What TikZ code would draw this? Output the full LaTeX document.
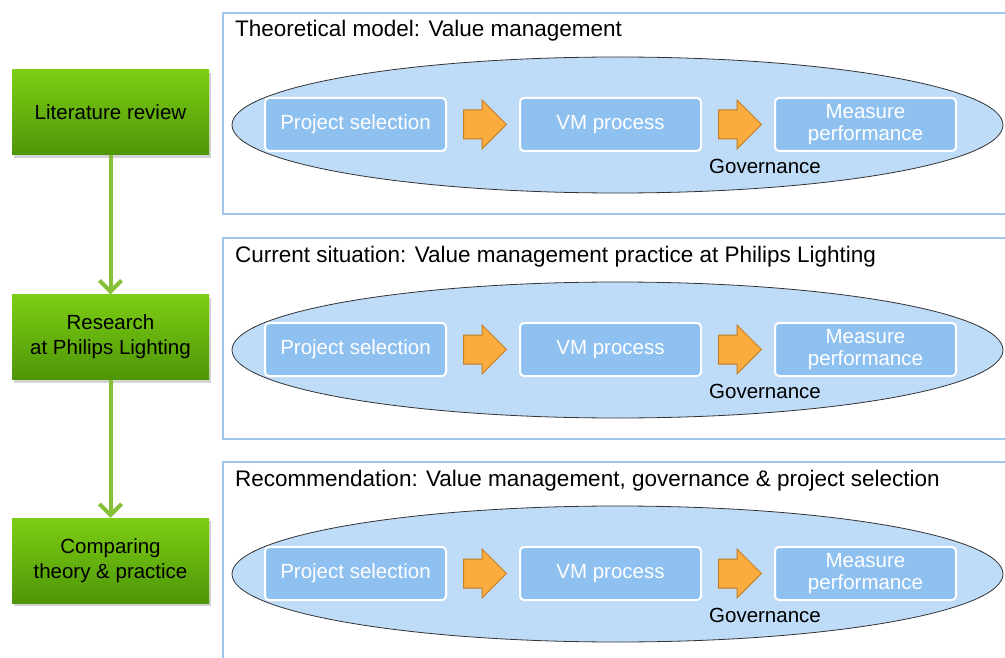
\documentclass[tikz,border=0pt]{standalone}
\usepackage{fontspec}
\setmainfont{Liberation Sans}
\usetikzlibrary{arrows.meta,shapes.geometric,shapes.arrows,shadows,calc}
\definecolor{grtop}{RGB}{125,205,20}
\definecolor{grbot}{RGB}{78,150,8}
\definecolor{grline}{RGB}{135,192,55}
\definecolor{pnline}{RGB}{160,198,236}
\definecolor{ellfill}{RGB}{190,220,248}
\definecolor{boxfill}{RGB}{142,192,240}
\definecolor{orfill}{RGB}{250,172,62}
\definecolor{orline}{RGB}{195,125,35}
\newcommand{\bigfont}{\fontsize{20.5}{25}\selectfont}
\tikzset{
  stage/.style={minimum width=197pt, minimum height=85pt, top color=grtop, bottom color=grbot,
    drop shadow={opacity=0.35, shadow xshift=2pt, shadow yshift=-3pt}, align=center, font=\bigfont},
  flow/.style={draw=grline, line width=4pt, -{Straight Barb[length=11pt, width=22pt]}},
  vmbox/.style={draw=white, line width=2pt, fill=boxfill, rounded corners=4pt, minimum width=181pt,
    minimum height=53pt, text=white, align=center, font=\fontsize{20.5}{22}\selectfont},
  orarrow/.style={single arrow, draw=orline, fill=orfill, line width=1pt, minimum height=43pt,
    minimum width=48pt, inner sep=0pt, inner ysep=14pt, single arrow head extend=10pt,
    text height=0pt, text depth=0pt, anchor=tail}
}
\begin{document}
\begin{tikzpicture}[x=1pt,y=-1pt]
\useasboundingbox (0,0) rectangle (1005,658);
% research steps
\node[stage] (lit) at (110.5,112.5) {Literature review};
\node[stage] (res) at (110.5,337) {Research\\at Philips Lighting};
\node[stage] (cmp) at (110.5,560.5) {Comparing\\theory \& practice};
\draw[flow] (lit.south) -- (res.north);
\draw[flow] (res.south) -- (cmp.north);
% panels
\foreach \i/\dy/\ttl in {1/0/{Theoretical model: Value management},
    2/225/{Current situation: Value management practice at Philips Lighting},
    3/449/{Recommendation: Value management, governance \& project selection}}{
  \draw[pnline, line width=2.5pt] (1005,{13+\dy}) -- (223,{13+\dy}) -- (223,{214+\dy}) -- (1005,{214+\dy});
  \node[anchor=base west, inner sep=0pt, font=\fontsize{22.5}{27}\selectfont] (ttl\i) at (235,{37+\dy}) {\ttl};
  \node[ellipse, draw=black!80, fill=ellfill, line width=0.8pt, minimum width=771pt, minimum height=136pt]
    (ell\i) at (617.5,{125+\dy}) {};
  \node[vmbox] (ps\i) at (355.5,{124.5+\dy}) {Project selection};
  \node[vmbox] (vm\i) at (610.5,{124.5+\dy}) {VM process};
  \node[vmbox] (mp\i) at (865.5,{124.5+\dy}) {Measure\\performance};
  \node[orarrow] (a\i) at ($(ps\i.east)+(16,0)$) {};
  \node[orarrow] (b\i) at ($(vm\i.east)+(16,0)$) {};
  \node[font=\bigfont, inner sep=0pt] (gov\i) at (765,{166+\dy}) {Governance};
}
\end{tikzpicture}
\end{document}
